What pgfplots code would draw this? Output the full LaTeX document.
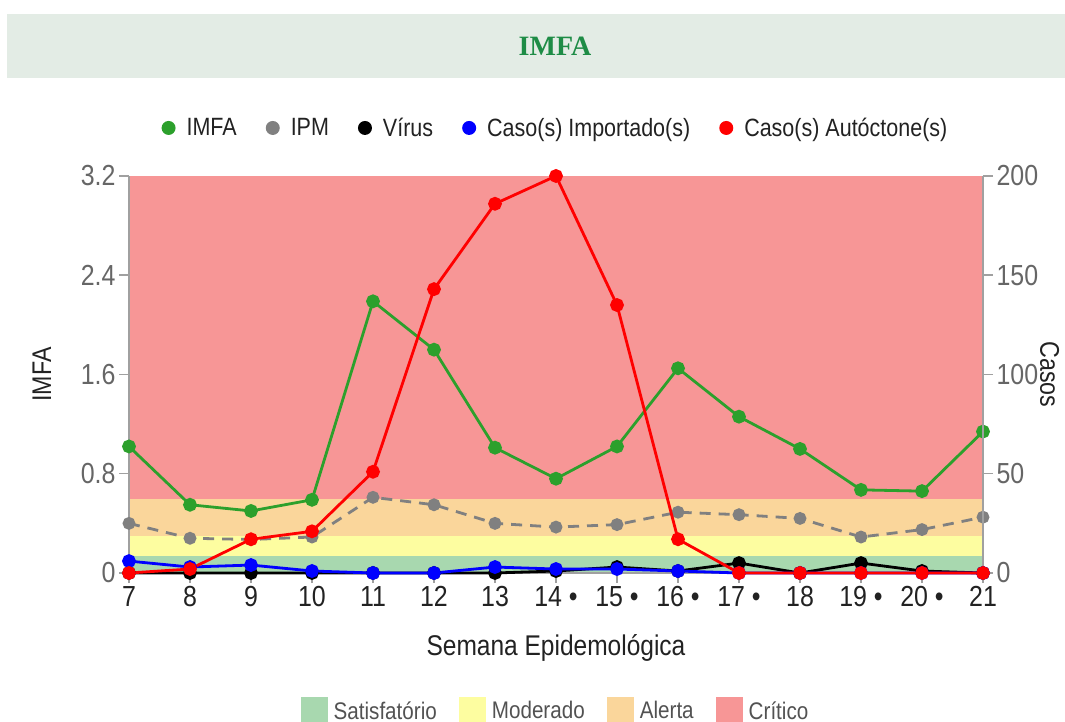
\documentclass[border=0pt]{standalone}
\usepackage{pgfplots}
\usepackage{pgfplotstable}
\pgfplotsset{compat=1.18}
\usepackage{fontspec}
\setmainfont{Liberation Sans}[FakeStretch=0.86]
\newfontfamily\titlefont{Liberation Serif}
\definecolor{titlebg}{RGB}{227,236,229}
\definecolor{titlegreen}{RGB}{30,140,70}
\definecolor{satc}{RGB}{168,216,175}
\definecolor{modc}{RGB}{253,253,160}
\definecolor{alec}{RGB}{250,214,155}
\definecolor{critc}{RGB}{247,150,150}
\definecolor{imfac}{RGB}{44,160,44}
\definecolor{ipmc}{RGB}{128,128,128}
\definecolor{axgray}{RGB}{160,160,160}
\definecolor{txtgray}{RGB}{102,102,102}
\definecolor{txtdark}{RGB}{34,34,34}

\pgfplotstableread{
w imfa ipm virus imp aut
7 1.02 0.40 0 6 0
8 0.55 0.28 0 3 2
9 0.50 0.27 0 4 17
10 0.59 0.29 0 1 21
11 2.19 0.61 0 0 51
12 1.80 0.55 0 0 143
13 1.01 0.40 0 3 186
14 0.76 0.37 1 2 200
15 1.02 0.39 3 2 135
16 1.65 0.49 1 1 17
17 1.26 0.47 5 0 0
18 1.00 0.44 0 0 0
19 0.67 0.29 5 0 0
20 0.66 0.35 1 0 0
21 1.14 0.45 0 0 0
}\data

\pgfplotsset{
  common/.style={
    scale only axis, width=854pt, height=397pt,
    at={(129pt,149pt)}, anchor=south west,
    xmin=7, xmax=21, clip=false,
    tick align=outside, major tick length=10pt,
    tick style={axgray, line width=1.5pt},
    axis line style={axgray, line width=1.5pt, -},
    yticklabel style={font=\fontsize{29}{30}\selectfont, text=txtgray},
    xticklabel style={font=\fontsize{29}{30}\selectfont, text=txtdark},
  },
  ser/.style={line width=2.8pt, mark=*, mark size=5.5pt, mark options={solid}},
}

\begin{document}
\begin{tikzpicture}
\path[use as bounding box] (0pt,0pt) rectangle (1065pt,722pt);
\fill[titlebg] (7pt,644pt) rectangle (1065pt,708pt);
\node[font=\titlefont\bfseries\fontsize{28}{30}\selectfont, text=titlegreen] at (555pt,676pt) {IMFA};

\begin{axis}[common,
  axis on top=true,
  axis x line*=bottom, axis y line*=left,
  ymin=0, ymax=3.2,
  ytick={0,0.8,1.6,2.4,3.2}, yticklabels={0,0.8,1.6,2.4,3.2},
  xtick={7,8,...,21},
  xticklabels={7,8,9,10,11,12,13,14 •,15 •,16 •,17 •,18,19 •,20 •,21},
  xlabel={Semana Epidemológica},
  every axis x label/.style={at={(axis description cs:0.5,-0.189)}, anchor=center, font=\fontsize{28.5}{30}\selectfont, text=txtdark},
  ylabel={IMFA},
  every axis y label/.style={at={(axis description cs:-0.102,0.5)}, anchor=center, rotate=90, font=\fontsize{27}{30}\selectfont, text=txtdark},
  legend columns=4,
  legend style={at={(axis description cs:0.4994,-0.3476)}, anchor=center, draw=none, fill=none,
    font=\fontsize{24}{26}\selectfont, text=txtgray!80!black,
    /tikz/every odd column/.append style={column sep=4pt},
    /tikz/every even column/.append style={column sep=20pt}},
  legend image code/.code={\fill[#1, draw=none] (0pt,-13.5pt) rectangle (27pt,13.5pt);},
]
\addplot[draw=none, fill=critc, forget plot] coordinates {(7,3.2) (21,3.2)} \closedcycle;
\addplot[draw=none, fill=alec, forget plot] coordinates {(7,0.6) (21,0.6)} \closedcycle;
\addplot[draw=none, fill=modc, forget plot] coordinates {(7,0.3) (21,0.3)} \closedcycle;
\addplot[draw=none, fill=satc, forget plot] coordinates {(7,0.14) (21,0.14)} \closedcycle;
\addlegendimage{fill=satc}\addlegendentry{Satisfatório}
\addlegendimage{fill=modc}\addlegendentry{Moderado}
\addlegendimage{fill=alec}\addlegendentry{Alerta}
\addlegendimage{fill=critc}\addlegendentry{Crítico}
\addplot[ser, color=imfac, forget plot] table[x=w, y=imfa] {\data};
\addplot[ser, color=ipmc, mark size=5pt, dash pattern=on 11pt off 8pt, forget plot] table[x=w, y=ipm] {\data};
\end{axis}

\begin{axis}[common,
  axis x line=none, axis y line*=right,
  ymin=0, ymax=200,
  ytick={0,50,100,150,200}, yticklabels={0,50,100,150,200},
  ylabel={Casos},
  every axis y label/.style={at={(axis description cs:1.078,0.5)}, anchor=center, rotate=-90, font=\fontsize{27}{30}\selectfont, text=txtdark},
  legend columns=5,
  legend style={at={(axis description cs:0.4994,1.121)}, anchor=center, draw=none, fill=none,
    font=\fontsize{25}{26}\selectfont, text=txtdark,
    /tikz/every odd column/.append style={column sep=9pt},
    /tikz/every even column/.append style={column sep=27pt}},
  legend image code/.code={\fill[#1, draw=none] (7pt,0pt) circle (7pt);},
]
\addlegendimage{fill=imfac}\addlegendentry{IMFA}
\addlegendimage{fill=ipmc}\addlegendentry{IPM}
\addlegendimage{fill=black}\addlegendentry{Vírus}
\addlegendimage{fill=blue}\addlegendentry{Caso(s) Importado(s)}
\addlegendimage{fill=red}\addlegendentry{Caso(s) Autóctone(s)}
\addplot[ser, color=black, forget plot] table[x=w, y=virus] {\data};
\addplot[ser, color=blue, forget plot] table[x=w, y=imp] {\data};
\addplot[ser, color=red, forget plot] table[x=w, y=aut] {\data};
\end{axis}
\end{tikzpicture}
\end{document}
